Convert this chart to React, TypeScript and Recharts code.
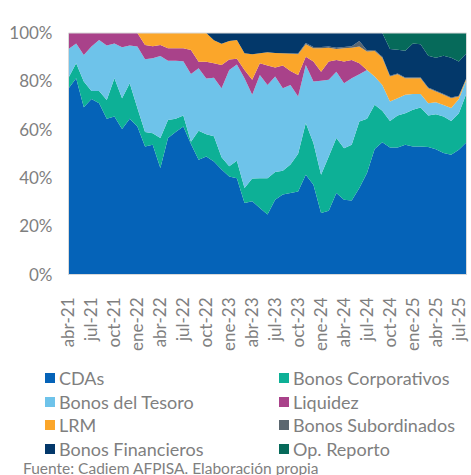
import React from "react";
import { AreaChart, Area, XAxis, YAxis, ReferenceArea } from "recharts";

const months = [
  "abr-21","may-21","jun-21","jul-21","ago-21","sep-21","oct-21","nov-21","dic-21",
  "ene-22","feb-22","mar-22","abr-22","may-22","jun-22","jul-22","ago-22","sep-22","oct-22","nov-22","dic-22",
  "ene-23","feb-23","mar-23","abr-23","may-23","jun-23","jul-23","ago-23","sep-23","oct-23","nov-23","dic-23",
  "ene-24","feb-24","mar-24","abr-24","may-24","jun-24","jul-24","ago-24","sep-24","oct-24","nov-24","dic-24",
  "ene-25","feb-25","mar-25","abr-25","may-25","jun-25","jul-25","ago-25",
];

const cdas = [77,81.3,69.3,72.7,70.9,64.5,65.4,60.3,64.5,61.3,53,53.7,44.1,56.5,59,61.3,54,47.5,48.9,46.8,43.5,40.6,39.9,29.6,30.3,27.5,24.8,31,33.1,33.7,34.4,41.3,37.2,25.5,26.4,33.7,31,30.6,35.8,42,52,54.8,52.6,52.6,53.7,53,53,52.8,51.9,50.3,49.6,51.7,54.8];
const corporativos = [4.5,6.2,10.6,3.3,5.1,7.8,15.9,12.7,14.7,7.6,6,4.8,12.4,7.5,5.5,4.5,1,12,9.2,10.4,5,4.2,7.2,6.2,9.4,12.4,15.1,11.4,9.9,11.8,15.6,21.4,17.2,15.8,22.5,22.8,21.3,23.1,27.6,22.5,18.3,13,11,13.2,13.1,15.2,16.1,13,14.5,15.1,14,15.1,20.3];
const tesoro = [11.9,8.2,11,18.4,21.1,22.5,14.4,21.1,15.6,25.5,30.1,31,34,24.5,24,22.5,28,25.9,23.1,24.3,28.6,39.9,39.9,45.5,34.7,42.7,38.6,39.6,34.1,33,23.7,24.1,25.5,38.9,31.7,27.5,26.9,27.6,19.5,20.2,11.7,10.7,8,7.2,7.6,6.5,5.6,5.1,4.9,4.8,5.3,5.9,5.5];
const liquidez = [6.6,4.3,9.1,5.6,2.9,5.2,4.3,5.9,5.2,5.6,5.9,5,4.5,5.2,5.2,5.4,10,2.7,6.9,6,9.6,4.3,2.3,3.4,6.2,4.9,8,3.7,9.4,5.8,8.9,3.4,8.3,3.8,7.6,4.8,9,7.5,4.6,0,0,0,0,0,0,0,0,0,0,0,0,0,0];
const lrm = [0,0,0,0,0,0,0,0,0,0,5,5.5,5,6.3,6.3,6.3,7,11.9,11.9,9.5,8.8,7.7,7.8,6.9,10.6,4.1,5.5,6,5.1,7.2,8.6,5.1,5.5,9.7,5.7,4.6,5.5,5.1,6.9,7.6,10.5,11.3,10.4,9.9,6.9,6.6,6.6,6.2,4.5,4.2,4.1,1,0.7];
const subordinados = [0,0,0,0,0,0,0,0,0,0,0,0,0,0,0,0,0,0,0,0,0,0,0,0,0,0,0,0,0,0,0.3,0.6,0.5,0.5,0.5,0.5,0.5,0.6,2.3,0.5,0.5,0.4,0.3,0.3,0.3,0.3,0.3,0.3,0.3,0.3,0.3,0.3,0.2];
const financieros = [0,0,0,0,0,0,0,0,0,0,0,0,0,0,0,0,0,0,0,3,4.5,3.3,2.9,8.4,8.8,8.4,8,8.3,8.4,8.5,8.5,4.1,5.8,5.8,5.6,6.1,5.8,5.5,3.3,7.2,7,9.8,11.1,9.9,11,14.1,13.7,13.2,13.7,15.9,16.5,14.2,10.1];
const reporto = [0,0,0,0,0,0,0,0,0,0,0,0,0,0,0,0,0,0,0,0,0,0,0,0,0,0,0,0,0,0,0,0,0,0,0,0,0,0,0,0,0,0,6.6,6.9,7.4,4.3,4.7,9.4,10.2,9.4,10.2,11.8,8.4];

const yTicks = [0, 0.2, 0.4, 0.6, 0.8, 1];

const series = [
  { key: "CDAs", values: cdas, color: "#0563B8" },
  { key: "Bonos Corporativos", values: corporativos, color: "#0DB096" },
  { key: "Bonos del Tesoro", values: tesoro, color: "#6EC3EA" },
  { key: "Liquidez", values: liquidez, color: "#A9428A" },
  { key: "LRM", values: lrm, color: "#FBA62A" },
  { key: "Bonos Subordinados", values: subordinados, color: "#5B6770" },
  { key: "Bonos Financieros", values: financieros, color: "#03386A" },
  { key: "Op. Reporto", values: reporto, color: "#066A5A" },
];

const legendOrder = [
  ["CDAs", "Bonos Corporativos"],
  ["Bonos del Tesoro", "Liquidez"],
  ["LRM", "Bonos Subordinados"],
  ["Bonos Financieros", "Op. Reporto"],
];

const data = months.map((m, i) => {
  const row: any = { month: m };
  series.forEach((s) => (row[s.key] = s.values[i]));
  return row;
});

const FONT = "Lato, 'Open Sans', sans-serif";
const GRAY = "#7F7F7F";

const XTick = (props: any) => {
  const { x, y, payload } = props;
  return (
    <g transform={`translate(${x},${y + 15})`}>
      <text
        transform="rotate(-90)"
        textAnchor="end"
        dy="0.35em"
        fill={GRAY}
        fontSize={17}
        fontFamily={FONT}
      >
        {payload.value}
      </text>
    </g>
  );
};

export default function App() {
  const colorOf = (k: string) => series.find((s) => s.key === k)!.color;
  return (
    <div style={{ position: "absolute", left: 0, top: 0, width: 471, height: 475, background: "#fff", fontFamily: FONT }}>
      <AreaChart
        width={471}
        height={360}
        data={data}
        stackOffset="expand"
        margin={{ top: 33, right: 4.5, left: 0, bottom: 5.5 }}
      >
        <XAxis
          dataKey="month"
          interval={2}
          tick={<XTick />}
          tickLine={false}
          axisLine={{ stroke: "#D9D9D9" }}
          height={80}
        />
        <YAxis
          ticks={yTicks}
          domain={[0, 1]}
          tickFormatter={(v: number) => `${Math.round(v * 100)}%`}
          tickLine={false}
          tickSize={0}
          tickMargin={16}
          axisLine={{ stroke: "#D9D9D9" }}
          width={68.5}
          tick={{ fill: GRAY, fontSize: 17, fontFamily: FONT }}
        />
        {series.map((s) => (
          <Area
            key={s.key}
            type="linear"
            dataKey={s.key}
            stackId="1"
            fill={s.color}
            fillOpacity={1}
            stroke="none"
            isAnimationActive={false}
          />
        ))}
        <ReferenceArea
          x1={months[0]}
          x2={months[months.length - 1]}
          y1={0}
          y2={1}
          fill="none"
          stroke="#D9D9D9"
          ifOverflow="visible"
        />
      </AreaChart>
      {legendOrder.map((row, r) =>
        row.map((name, c) => (
          <div
            key={name}
            style={{
              position: "absolute",
              left: c === 0 ? 45 : 279,
              top: 378 + r * 23.7 - 11,
              height: 22,
              display: "flex",
              alignItems: "center",
              fontSize: 18,
              color: GRAY,
              whiteSpace: "nowrap",
            }}
          >
            <span style={{ display: "inline-block", width: 10, height: 10, background: colorOf(name), marginRight: 4 }} />
            {name}
          </div>
        ))
      )}
      <div style={{ position: "absolute", left: 23, top: 459, fontSize: 15.5, color: GRAY, whiteSpace: "nowrap" }}>
        Fuente: Cadiem AFPISA. Elaboración propia
      </div>
    </div>
  );
}
